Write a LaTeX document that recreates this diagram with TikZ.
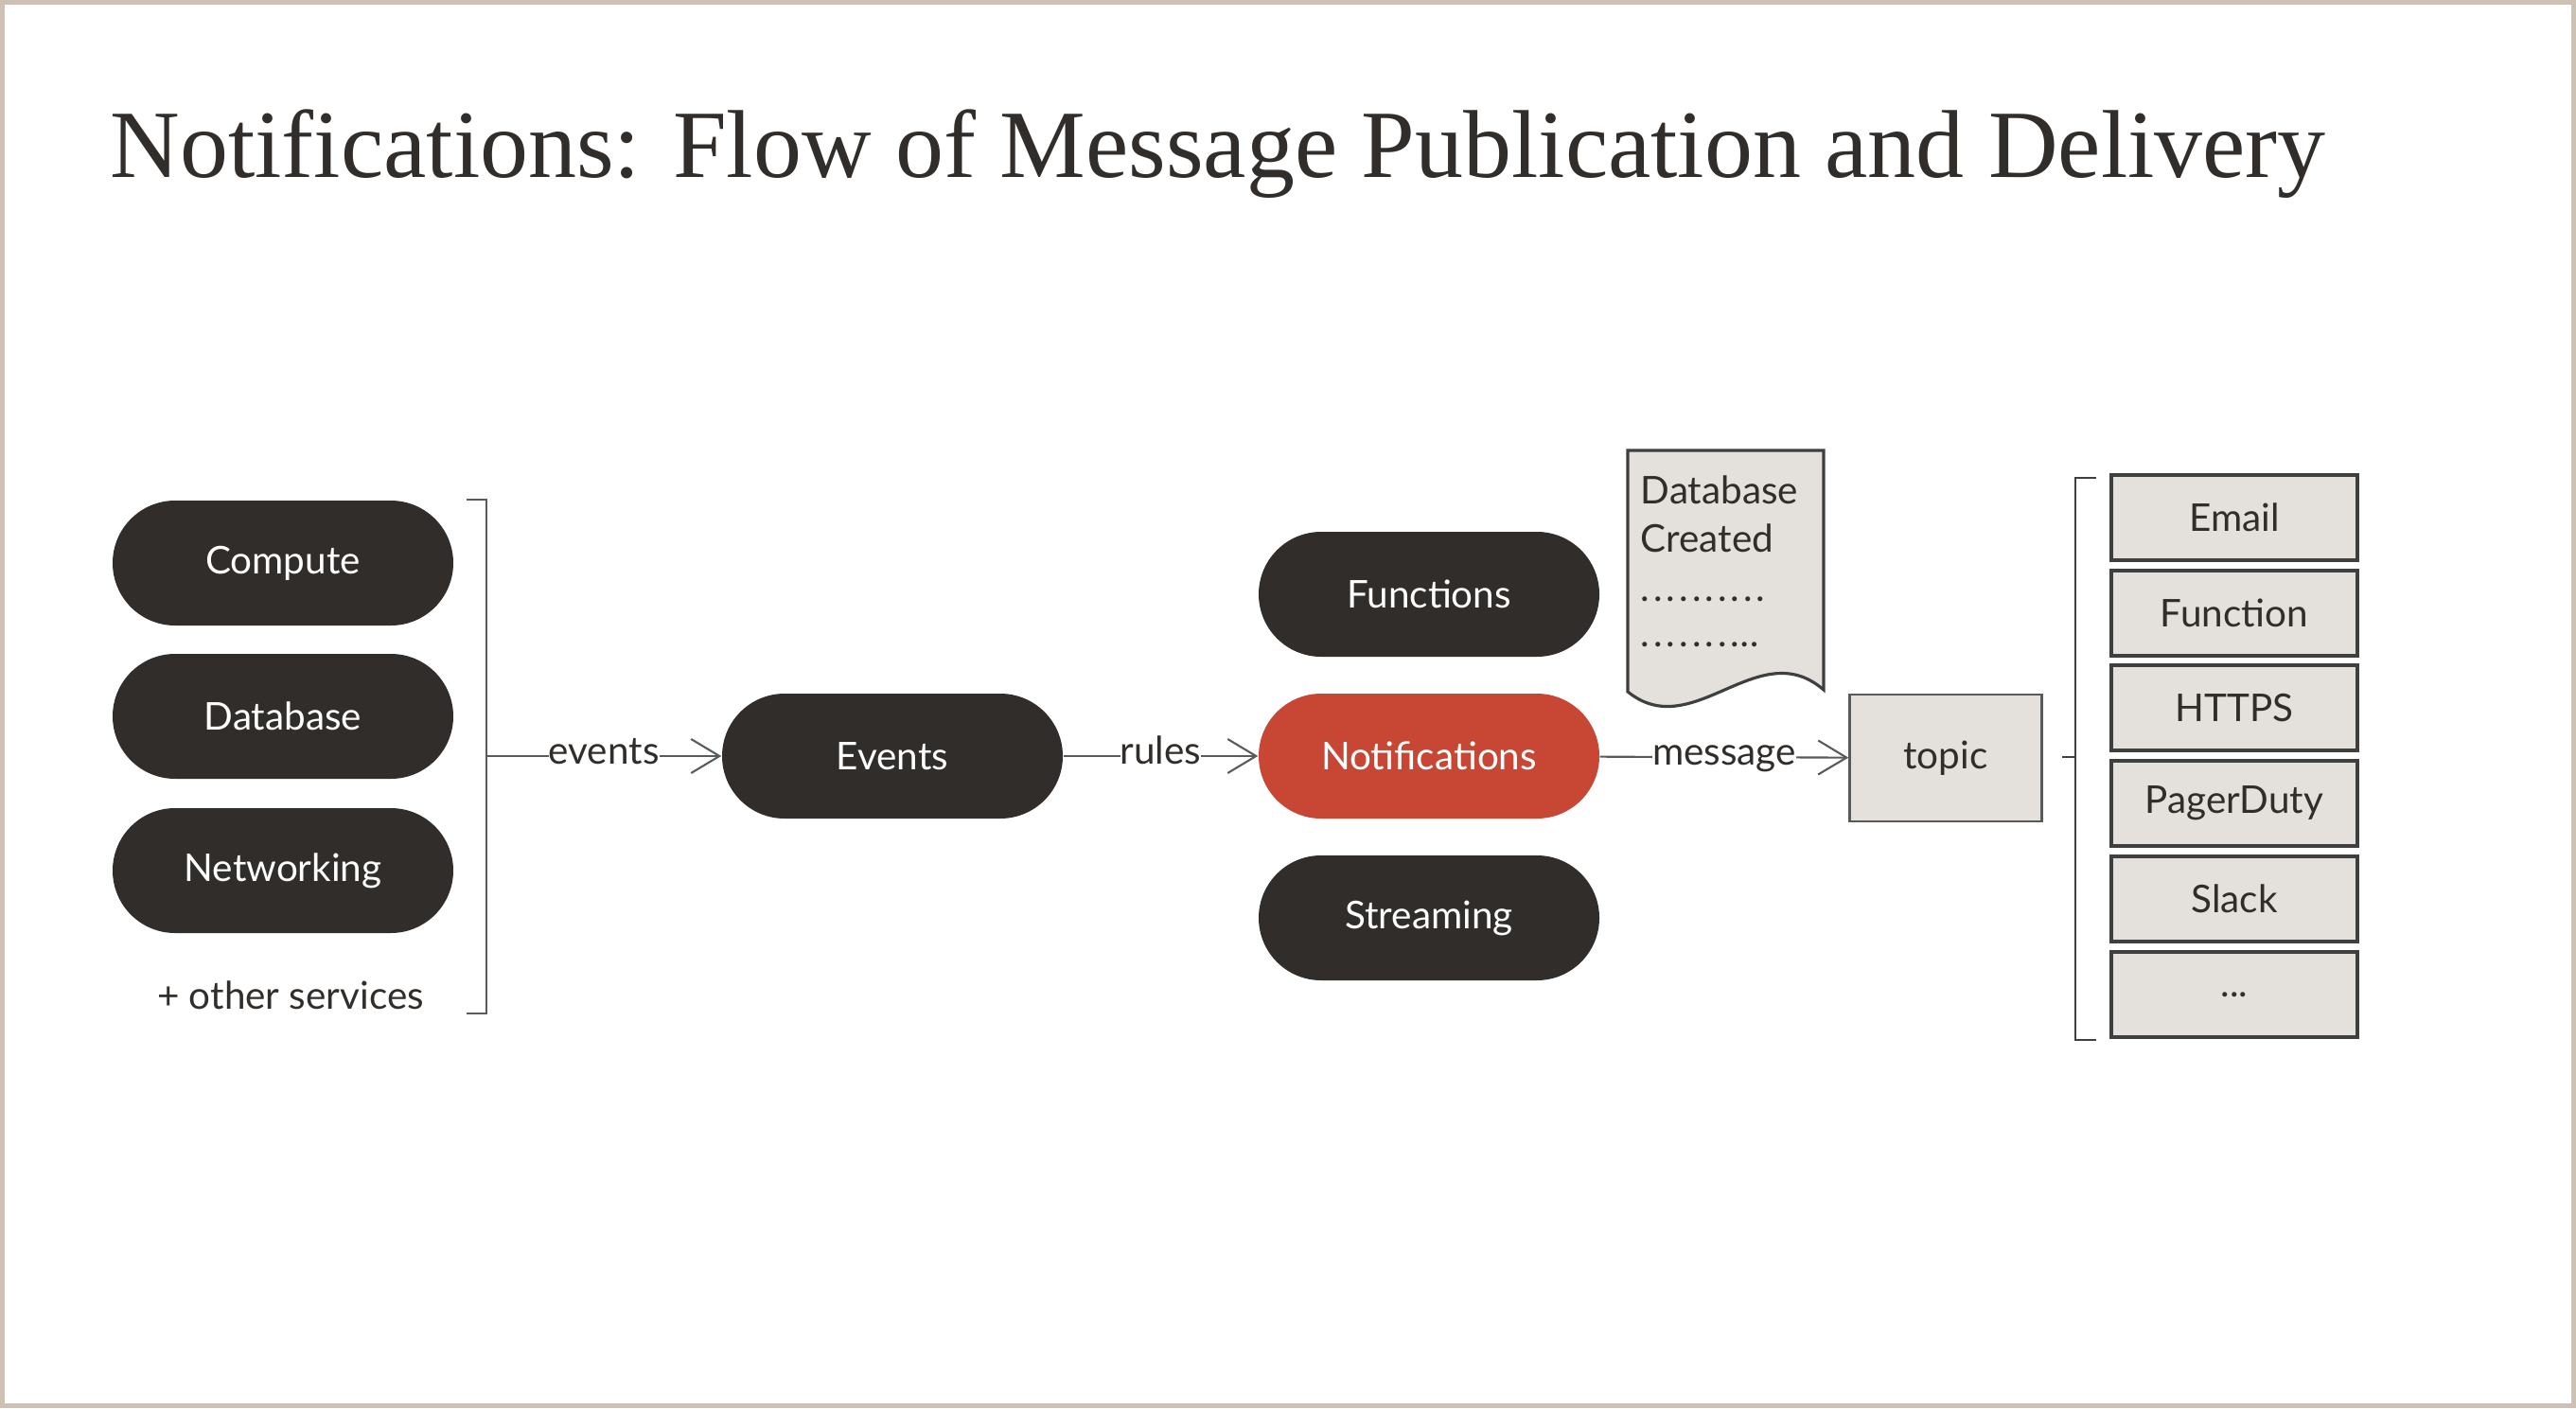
\documentclass[tikz,border=0pt]{standalone}
\usepackage{fontspec}
\setmainfont{Lato}
\newfontfamily\titlefont{Liberation Serif}
\usetikzlibrary{arrows.meta}

\definecolor{pilldark}{HTML}{312D2A}
\definecolor{pillred}{HTML}{C74634}
\definecolor{boxfill}{HTML}{E4E1DD}
\definecolor{boxedge}{HTML}{3F3F3F}
\definecolor{framebeige}{HTML}{CCC1B3}
\definecolor{flowgray}{HTML}{5A5A5A}

\begin{document}
\begin{tikzpicture}[
    pill/.style={rectangle, rounded corners=0.66cm, fill=pilldark, text=white, minimum width=3.6cm, minimum height=1.32cm, font=\fontsize{11.5}{13}\selectfont},
    redpill/.style={pill, fill=pillred},
    endbox/.style={rectangle, draw=boxedge, line width=0.9pt, fill=boxfill, text=pilldark, minimum width=2.6cm, minimum height=0.9cm, font=\fontsize{11.5}{13}\selectfont},
    flow/.style={flowgray, line width=0.6pt, -{Straight Barb[length=3mm, width=3.6mm]}},
    flowlabel/.style={fill=white, inner sep=0pt, text height=0.5em, text depth=0pt, text=pilldark, font=\fontsize{11.5}{13}\selectfont},
    doctext/.style={anchor=base west, inner sep=0pt, text=pilldark, font=\fontsize{11.5}{13}\selectfont}
]
\useasboundingbox (0,0) rectangle (27.22,14.88);
\draw[framebeige, line width=1.4pt] (0.025,0.025) rectangle (27.195,14.855);

\node[anchor=base west, inner sep=0pt, text=pilldark, font=\titlefont\fontsize{29}{34}\selectfont] (title) at (1.16,13.01) {Notifications: Flow of Message Publication and Delivery};

\node[pill] (compute) at (2.99,8.93) {Compute};
\node[pill] (database) at (2.99,7.31) {Database};
\node[pill] (networking) at (2.99,5.68) {Networking};
\node[text=pilldark, font=\fontsize{11.5}{13}\selectfont] (others) at (3.07,4.36) {+ other services};

\draw[flowgray, line width=0.7pt] (4.93,9.60) -- (5.14,9.60) -- (5.14,4.17) -- (4.93,4.17);
\coordinate (srcjoin) at (5.14,6.89);

\node[pill] (events) at (9.43,6.89) {Events};
\node[pill] (functions) at (15.10,8.60) {Functions};
\node[redpill] (notifications) at (15.10,6.89) {Notifications};
\node[pill] (streaming) at (15.10,5.18) {Streaming};

\draw[flow] (srcjoin) -- node[flowlabel] {events} (events);
\draw[flow] (events) -- node[flowlabel] {rules} (notifications);

\draw[boxedge, line width=0.9pt, fill=boxfill] (17.20,10.12) -- (19.27,10.12) -- (19.27,7.59) .. controls (18.58,8.19) and (17.89,7.01) .. (17.20,7.57) -- cycle;
\node[doctext] (doclinea) at (17.33,9.56) {Database};
\node[doctext] (doclineb) at (17.33,9.05) {Created};
\node[doctext, font=\fontsize{11.5}{13}\selectfont\addfontfeature{LetterSpace=10}] (doclinec) at (17.33,8.53) {..........};
\node[doctext, font=\fontsize{11.5}{13}\selectfont\addfontfeature{LetterSpace=10}] (doclined) at (17.33,8.05) {.......…};

\node[rectangle, draw=flowgray, line width=0.7pt, fill=boxfill, text=pilldark, minimum width=2.03cm, minimum height=1.34cm, font=\fontsize{11.5}{13}\selectfont] (topic) at (20.56,6.87) {topic};
\draw[flow] (notifications) -- node[flowlabel] {message} (topic);

\draw[boxedge, line width=0.8pt] (22.15,9.83) -- (21.93,9.83) -- (21.93,3.89) -- (22.15,3.89);
\coordinate (dstjoin) at (21.93,6.88);
\draw[boxedge, line width=0.8pt] (dstjoin) -- ++(-0.14,0);

\node[endbox] (email) at (23.61,9.41) {Email};
\node[endbox] (function) at (23.61,8.40) {Function};
\node[endbox] (https) at (23.61,7.40) {HTTPS};
\node[endbox] (pagerduty) at (23.61,6.39) {PagerDuty};
\node[endbox] (slack) at (23.61,5.38) {Slack};
\node[endbox] (more) at (23.61,4.37) {...};

\end{tikzpicture}
\end{document}
